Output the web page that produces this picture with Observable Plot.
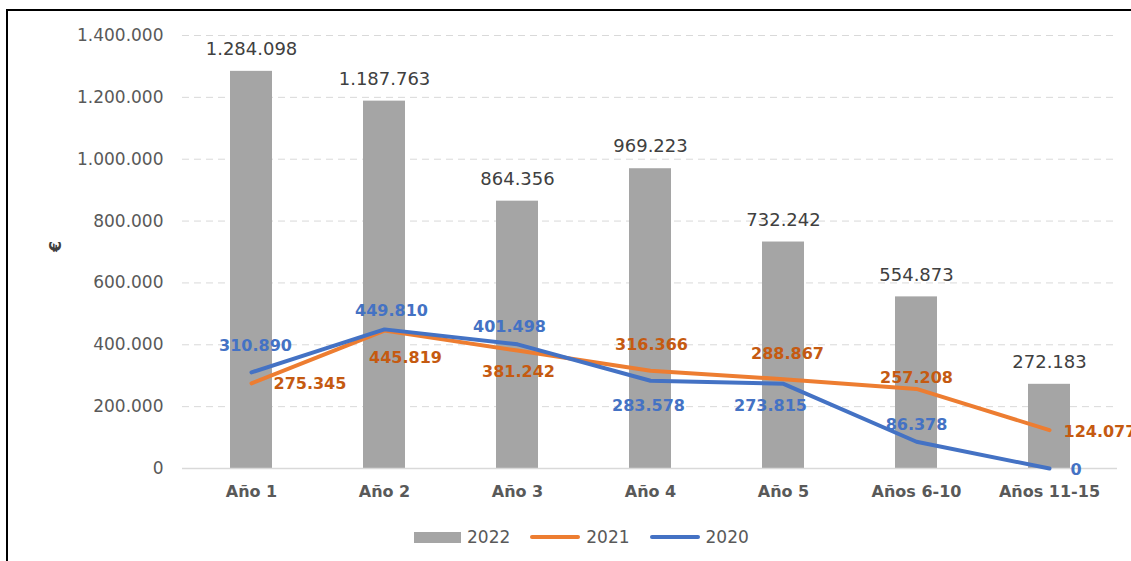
<!DOCTYPE html>
<html><head><meta charset="utf-8">
<script src="https://cdn.jsdelivr.net/npm/d3@7"></script>
<script src="https://cdn.jsdelivr.net/npm/@observablehq/plot@0.6"></script>
<style>
html,body{margin:0;padding:0;background:#fff;overflow:hidden;width:1131px;height:561px;}
#frame{position:absolute;left:6px;top:9px;width:2000px;height:2000px;border:2px solid #000;box-sizing:border-box;pointer-events:none;}
#chart{position:absolute;left:0;top:0;}
#legend{position:absolute;left:414px;top:527px;height:20px;display:flex;align-items:center;font-family:"DejaVu Sans";font-size:17px;color:#595959;white-space:nowrap;}
#legend .sw{display:inline-block;margin-right:6px;}
#legend .item{display:flex;align-items:center;margin-right:20px;}
</style></head><body>
<div id="chart"></div><div id="legend"></div><div id="frame"></div>
<script>
const categories = ["Año 1", "Año 2", "Año 3", "Año 4", "Año 5", "Años 6-10", "Años 11-15"];
const values2022 = [1284098, 1187763, 864356, 969223, 732242, 554873, 272183];
const values2021 = [275345, 445819, 381242, 316366, 288867, 257208, 124077];
const values2020 = [310890, 449810, 401498, 283578, 273815, 86378, 0];
const seriesNames = ["2022", "2021", "2020"];
const yTicks = [0, 200000, 400000, 600000, 800000, 1000000, 1200000, 1400000];
const yLabel = "€";

// label placement (style only): [dx, dy, anchor]
const place2020 = [[4,-26,"middle"],[7,-19,"middle"],[-8,-17,"middle"],[-2,25,"middle"],[-13,22,"middle"],[0,-17,"middle"],[21,1,"start"]];
const place2021 = [[22,1,"start"],[21,27,"middle"],[1,21,"middle"],[1,-26,"middle"],[4,-25,"middle"],[0,-11,"middle"],[14,2,"start"]];

const colors = {"2022": "#A5A5A5", "2021": "#ED7D31", "2020": "#4472C4"};
const labelColors = {"2021": "#C55A11", "2020": "#4472C4"};

const fmt = v => d3.format(",")(v).replace(/,/g, ".");
const rows = vals => categories.map((c, i) => ({cat: c, value: vals[i]}));
const r2022 = rows(values2022), r2021 = rows(values2021), r2020 = rows(values2020);

const pointLabels = (rs, place, color) => rs.map((r, i) => Plot.text([r], {
  x: "cat", y: "value", text: d => fmt(d.value),
  dx: place[i][0], dy: place[i][1], textAnchor: place[i][2],
  fill: color, fontSize: 16, fontWeight: "bold"
}));

const chart = Plot.plot({
  width: 1131, height: 515,
  marginLeft: 182, marginRight: 14, marginTop: 35, marginBottom: 47,
  style: {fontFamily: "DejaVu Sans", background: "transparent", color: "#595959", overflow: "visible"},
  x: {domain: categories, paddingInner: 0.686, paddingOuter: 0.343, label: null},
  y: {domain: [0, 1400000], label: null},
  marks: [
    Plot.gridY({ticks: yTicks, stroke: "#D9D9D9", strokeOpacity: 1, strokeDasharray: "7,5", strokeWidth: 1}),
    Plot.barY(r2022, {x: "cat", y: "value", fill: colors["2022"]}),
    Plot.ruleY([0], {stroke: "#D9D9D9", strokeWidth: 1.5}),
    Plot.line(r2021, {x: "cat", y: "value", stroke: colors["2021"], strokeWidth: 4, strokeLinecap: "round", strokeLinejoin: "round"}),
    Plot.line(r2020, {x: "cat", y: "value", stroke: colors["2020"], strokeWidth: 4, strokeLinecap: "round", strokeLinejoin: "round"}),
    Plot.text(r2022, {x: "cat", y: "value", text: d => fmt(d.value), dy: -22, fill: "#404040", fontSize: 18}),
    ...pointLabels(r2020, place2020, labelColors["2020"]),
    ...pointLabels(r2021, place2021, labelColors["2021"]),
    Plot.axisY({ticks: yTicks, tickSize: 0, tickPadding: 19, tickFormat: fmt, fontSize: 17, label: null}),
    Plot.axisX({tickSize: 0, tickPadding: 17, fontSize: 16, fontWeight: "bold", label: null}),
    Plot.text([yLabel], {frameAnchor: "left", dx: -127, rotate: -90, fontWeight: "bold", fontSize: 16, fill: "#404040"})
  ]
});
document.getElementById("chart").appendChild(chart);

const legend = document.getElementById("legend");
seriesNames.forEach(name => {
  const item = document.createElement("div");
  item.className = "item";
  const sw = document.createElement("span");
  sw.className = "sw";
  if (name === "2022") {
    sw.style.cssText = `width:47px;height:11px;background:${colors[name]};`;
  } else {
    sw.style.cssText = `width:50px;height:4px;border-radius:2px;background:${colors[name]};`;
  }
  const t = document.createElement("span");
  t.textContent = name;
  item.appendChild(sw); item.appendChild(t);
  legend.appendChild(item);
});
</script>
</body></html>
